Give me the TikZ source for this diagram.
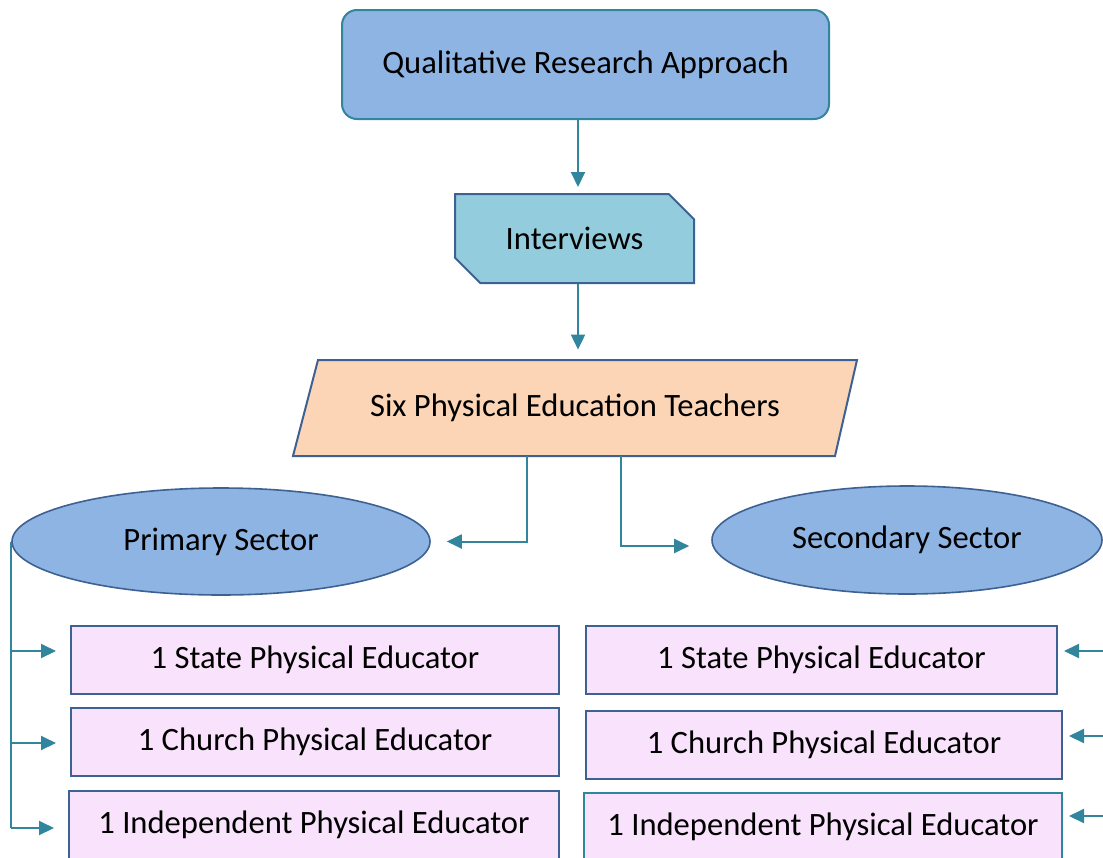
\documentclass[tikz,border=0pt]{standalone}
\usepackage{fontspec}
\setmainfont{Carlito}
\usetikzlibrary{calc}
\usetikzlibrary{shapes.geometric}
\usetikzlibrary{shapes.misc}
\usetikzlibrary{arrows.meta}

\definecolor{stepblue}{HTML}{8EB4E3}
\definecolor{stepcyan}{HTML}{93CDDD}
\definecolor{steppeach}{HTML}{FBD5B5}
\definecolor{steplilac}{HTML}{F9E2FB}
\definecolor{edgeblue}{HTML}{3E6193}
\definecolor{edgeteal}{HTML}{31859C}

\begin{document}
\begin{tikzpicture}[
		x=0.5pt, y=-0.5pt,
		every node/.append style={font=\fontsize{16.3}{19}\selectfont, inner sep=0pt},
		approach/.style={
			draw=edgeteal,
			line width=1pt,
			fill=stepblue,
			rectangle,
			rounded corners=7.5pt,
			minimum width=243.5pt,
			minimum height=54.5pt},
		method/.style={
			draw=edgeblue,
			line width=1pt,
			fill=stepcyan,
			chamfered rectangle,
			chamfered rectangle corners={north east, south west},
			chamfered rectangle xsep=7pt,
			chamfered rectangle ysep=7pt,
			minimum width=119.5pt,
			minimum height=44.5pt},
		sample/.style={
			draw=edgeblue,
			line width=1pt,
			fill=steppeach},
		sector/.style={
			draw=edgeblue,
			line width=0.8pt,
			fill=stepblue,
			ellipse},
		educator/.style={
			draw=edgeblue,
			line width=1pt,
			fill=steplilac,
			rectangle,
			minimum height=34pt},
		link/.style={
			draw=edgeteal,
			line width=1pt},
		linkarrow/.style={
			link,
			-{Triangle[length=7.5pt,width=7pt]}},
		]

		\clip (0,0) rectangle (1103,857);

		%Approach
		\node (approach)[approach] at (585.5,64.5) {Qualitative Research Approach};

		%Interviews
		\node (interviews)[method] at (574.5,238.5) {Interviews};

		%Teachers
		\coordinate (teachers_c) at (575,408);
		\draw[sample] ($(teachers_c)+(-257,-48)$) -- ($(teachers_c)+(282,-48)$)
			-- ($(teachers_c)+(260,48)$) -- ($(teachers_c)+(-282,48)$) -- cycle;
		\node (teachers)[minimum width=271pt, minimum height=48pt] at (teachers_c) {Six Physical Education Teachers};

		%Sectors
		\node (primary)[sector, minimum width=209pt, minimum height=53.5pt] at (221,541.5) {Primary Sector};
		\node (secondary)[sector, minimum width=195pt, minimum height=54pt] at (907,540) {Secondary Sector};

		%Primary educators
		\foreach \name/\label/\x/\y/\w in {
				pe1/1 State Physical Educator/315/660/244,
				pe2/1 Church Physical Educator/315/742/244,
				pe3/1 Independent Physical Educator/314/825/245}{
			\node (\name)[educator, minimum width=\w pt] at (\x,\y) {\label};
		}

		%Secondary educators
		\foreach \name/\label/\x/\y/\w/\edge in {
				se1/1 State Physical Educator/821.5/660/235.5/edgeblue,
				se2/1 Church Physical Educator/824/745/238/edgeblue,
				se3/1 Independent Physical Educator/823/827/239/edgeteal}{
			\node (\name)[educator, draw=\edge, minimum width=\w pt] at (\x,\y) {\label};
		}

		%Vertical flow
		\draw[linkarrow] ($(approach.south)+(-7.5,0)$) -- ($(interviews.north)+(3.5,-6)$);
		\draw[linkarrow] ($(interviews.south)+(3.5,0)$) -- ($(interviews.south |- teachers.north)+(3.5,-10)$);

		%Split into sectors
		\draw[linkarrow] ($(teachers.south)+(-48,0)$) |- ($(primary.east)+(16,0)$);
		\draw[linkarrow] ($(teachers.south)+(46,0)$) |- ($(secondary.west)+(-22,6)$);

		%Primary rail
		\draw[link] (primary.west) -- ($(primary.west |- pe3.west)+(0,3)$);
		\foreach \edu/\dy in {pe1/-9, pe2/1, pe3/3}{
			\draw[linkarrow] ($(primary.west |- \edu.west)+(0,\dy)$) -- ($(\edu.west)+(-14,\dy)$);
		}

		%Secondary rail
		\coordinate (rail) at (1106,540);
		\foreach \edu/\dy in {se1/-9, se2/-9, se3/-11}{
			\draw[linkarrow] ($(rail |- \edu.east)+(0,\dy)$) -- ($(\edu.east)+(6,\dy)$);
		}

	\end{tikzpicture}
\end{document}
